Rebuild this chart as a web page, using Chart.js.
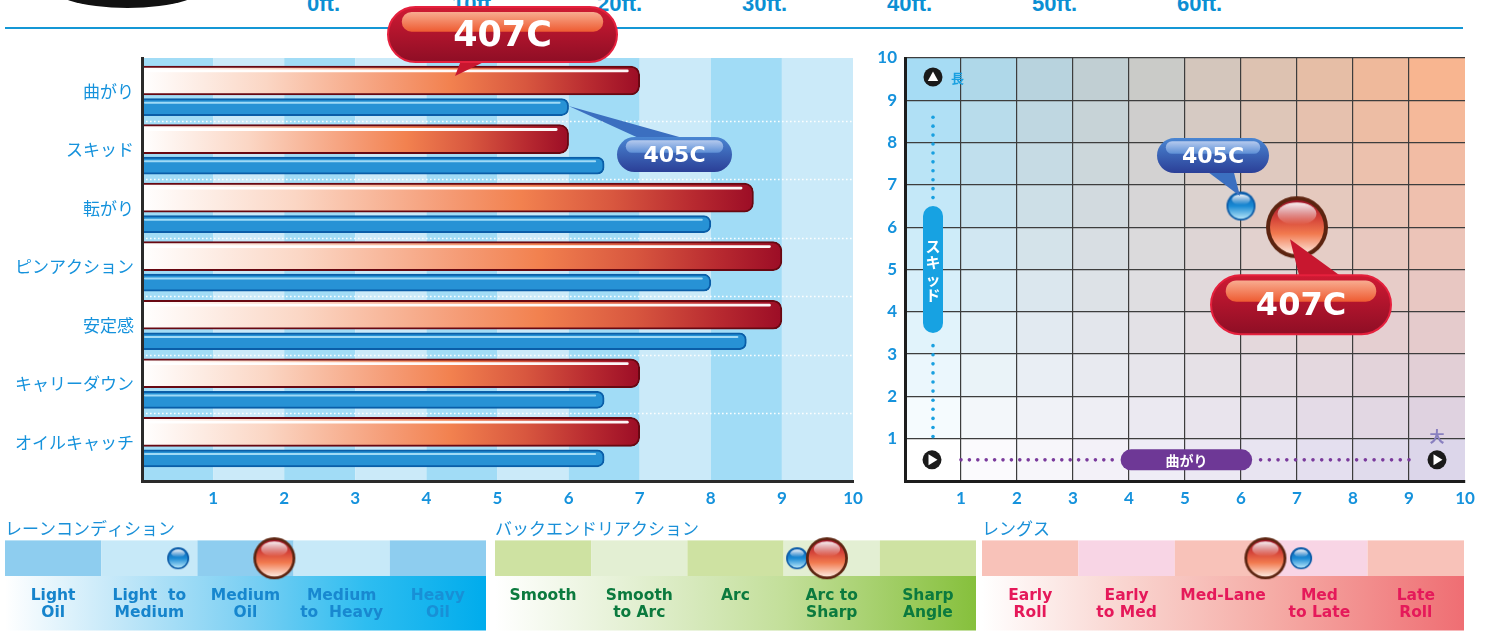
<!DOCTYPE html>
<html lang="ja">
<head>
<meta charset="utf-8">
<title>407C / 405C</title>
<script src="https://cdn.jsdelivr.net/npm/chart.js@4.4.1/dist/chart.umd.min.js"></script>
<style>
html,body{margin:0;padding:0;background:#fff;}
#wrap{position:relative;width:1486px;height:632px;overflow:hidden;background:#fff;}
#wrap canvas{position:absolute;}
.ft{position:absolute;top:-7px;font:bold 22px "Liberation Sans",Arial,sans-serif;color:#0b8fd3;line-height:22px;white-space:nowrap;}
#disc{position:absolute;left:45px;top:-44px;width:165px;height:52px;border-radius:50%;background:#111;}
#rule{position:absolute;left:5px;top:27px;width:1458px;height:2px;background:#1497d5;}
</style>
</head>
<body>
<div id="wrap">
  <div id="disc"></div>
  <div id="ftRow"></div>
  <div id="rule"></div>
  <canvas id="barChart" width="870" height="520" style="left:0;top:0"></canvas>
  <canvas id="mapChart" width="626" height="520" style="left:860px;top:0"></canvas>
  <canvas id="laneChart" width="495" height="122" style="left:0;top:510px"></canvas>
  <canvas id="backendChart" width="490" height="122" style="left:490px;top:510px"></canvas>
  <canvas id="lengthChart" width="510" height="122" style="left:976px;top:510px"></canvas>
</div>
<script>
// ---------------- DATA ----------------
const distanceLabels = ['0ft.', '10ft.', '20ft.', '30ft.', '40ft.', '50ft.', '60ft.'];

const barCategories = ['曲がり', 'スキッド', '転がり', 'ピンアクション', '安定感', 'キャリーダウン', 'オイルキャッチ'];
const bar407C = [7, 6, 8.6, 9, 9, 7, 7];
const bar405C = [6, 6.5, 8, 8, 8.5, 6.5, 6.5];
const barScaleMax = 10;

// skid (y) vs hook (x) map
const map407C = [7, 6];
const map405C = [6, 6.5];
const mapScaleMax = 10;

const laneLabels = [['Light', 'Oil'], ['Light  to', 'Medium'], ['Medium', 'Oil'], ['Medium', 'to  Heavy'], ['Heavy', 'Oil']];
const lane407C = 2.8;
const lane405C = 1.8;

const backendLabels = [['Smooth'], ['Smooth', 'to Arc'], ['Arc'], ['Arc to', 'Sharp'], ['Sharp', 'Angle']];
const backend407C = 3.45;
const backend405C = 3.14;

const lengthLabels = [['Early', 'Roll'], ['Early', 'to Med'], ['Med-Lane'], ['Med', 'to Late'], ['Late', 'Roll']];
const length407C = 2.94;
const length405C = 3.31;

// ---------------- HEADER ----------------
(function () {
  const row = document.getElementById('ftRow');
  distanceLabels.forEach((t, i) => {
    const s = document.createElement('span');
    s.className = 'ft';
    s.style.left = (307 + i * 145) + 'px';
    s.textContent = t;
    row.appendChild(s);
  });
})();

Chart.defaults.animation = false;
Chart.defaults.events = [];
Chart.defaults.plugins.legend.display = false;
Chart.defaults.plugins.tooltip.enabled = false;

// ---------------- helpers ----------------
function rr(ctx, x, y, w, h, r) {
  r = Math.min(r, h / 2, w / 2);
  ctx.beginPath();
  ctx.moveTo(x + r, y);
  ctx.lineTo(x + w - r, y);
  ctx.arc(x + w - r, y + r, r, -Math.PI / 2, 0);
  ctx.lineTo(x + w, y + h - r);
  ctx.arc(x + w - r, y + h - r, r, 0, Math.PI / 2);
  ctx.lineTo(x + r, y + h);
  ctx.arc(x + r, y + h - r, r, Math.PI / 2, Math.PI);
  ctx.lineTo(x, y + r);
  ctx.arc(x + r, y + r, r, Math.PI, Math.PI * 1.5);
  ctx.closePath();
}

function makeBall(r, kind) {
  const s = Math.ceil(2 * r + 2);
  const c = document.createElement('canvas');
  c.width = s; c.height = s;
  const g = c.getContext('2d');
  const cx = s / 2, cy = s / 2;
  const red = kind === 'red';
  const ring = red ? Math.max(2.5, r * 0.13) : Math.max(1.6, r * 0.12);
  g.beginPath(); g.arc(cx, cy, r, 0, Math.PI * 2);
  g.fillStyle = red ? '#5c2410' : '#0a5aa6'; g.fill();
  const ri = r - ring;
  const gr = g.createLinearGradient(0, cy - ri, 0, cy + ri);
  if (red) {
    gr.addColorStop(0, '#a0142a'); gr.addColorStop(0.35, '#d6463a');
    gr.addColorStop(0.62, '#f27a4f'); gr.addColorStop(1, '#fde8de');
  } else {
    gr.addColorStop(0, '#0a60b2'); gr.addColorStop(0.5, '#1a8ad4'); gr.addColorStop(1, '#b4e4f8');
  }
  g.beginPath(); g.arc(cx, cy, ri, 0, Math.PI * 2); g.fillStyle = gr; g.fill();
  const hg = g.createLinearGradient(0, cy - ri * 0.92, 0, cy - ri * 0.1);
  hg.addColorStop(0, 'rgba(255,255,255,0.95)'); hg.addColorStop(1, 'rgba(255,255,255,0)');
  g.beginPath(); g.ellipse(cx, cy - ri * 0.5, ri * 0.72, ri * 0.42, 0, 0, Math.PI * 2);
  g.fillStyle = hg; g.fill();
  return c;
}
const bigRed = makeBall(31, 'red');
const bigBlue = makeBall(14.5, 'blue');
const smallRed = makeBall(21, 'red');
const smallBlue = makeBall(11, 'blue');

const RED = { top: '#cf1a33', bottom: '#8e0e25', stroke: '#e5203d', hl0: '#f8ac90', hl1: '#ee5b31', tail: '#c8172f' };
const BLUE = { top: '#4a86d2', bottom: '#2b3f97', stroke: null, hl0: '#b5caee', hl1: '#5d8fd6', tail: '#3b6fc0' };

function drawPill(ctx, x, y, w, h, th, text, fs, tail) {
  ctx.save();
  if (tail) {
    ctx.beginPath(); ctx.moveTo(tail[0][0], tail[0][1]);
    ctx.lineTo(tail[1][0], tail[1][1]); ctx.lineTo(tail[2][0], tail[2][1]); ctx.closePath();
    ctx.fillStyle = th.tail; ctx.fill();
  }
  rr(ctx, x, y, w, h, h / 2);
  const g = ctx.createLinearGradient(0, y, 0, y + h);
  g.addColorStop(0, th.top); g.addColorStop(1, th.bottom);
  ctx.fillStyle = g; ctx.fill();
  if (th.stroke) { ctx.lineWidth = 2; ctx.strokeStyle = th.stroke; ctx.stroke(); }
  const hx = x + h * 0.25, hy = y + h * 0.09, hw = w - h * 0.5, hh = h * 0.36;
  rr(ctx, hx, hy, hw, hh, hh / 2);
  const hg = ctx.createLinearGradient(0, hy, 0, hy + hh);
  hg.addColorStop(0, th.hl0); hg.addColorStop(1, th.hl1);
  ctx.fillStyle = hg; ctx.fill();
  ctx.fillStyle = '#fff';
  ctx.font = 'bold ' + fs + 'px "DejaVu Sans", sans-serif';
  ctx.textAlign = 'center'; ctx.textBaseline = 'middle';
  ctx.fillText(text, x + w / 2, y + h * 0.54);
  ctx.restore();
}

// ---------------- BAR CHART ----------------
function redFill(c) {
  const chart = c.chart, xs = chart.scales && chart.scales.x;
  if (!chart.chartArea || !xs || !c.raw) return '#e8704a';
  const x0 = xs.getPixelForValue(0), x1 = xs.getPixelForValue(c.raw.x);
  const g = chart.ctx.createLinearGradient(x0, 0, x1, 0);
  g.addColorStop(0, '#ffffff'); g.addColorStop(0.25, '#fbd6c4'); g.addColorStop(0.5, '#f59b75');
  g.addColorStop(0.62, '#f2814f'); g.addColorStop(0.77, '#d8573f'); g.addColorStop(0.9, '#b82a30');
  g.addColorStop(1, '#9c0d26');
  return g;
}

const barDecor = {
  id: 'barDecor',
  beforeDraw(chart) {
    const { ctx, chartArea: a } = chart;
    const xs = chart.scales.x, ys = chart.scales.y;
    ctx.save();
    for (let i = 0; i < barScaleMax; i++) {
      const x0 = xs.getPixelForValue(i), x1 = xs.getPixelForValue(i + 1);
      ctx.fillStyle = i % 2 === 0 ? '#a1dcf6' : '#cbeaf9';
      ctx.fillRect(x0, a.top, x1 - x0, a.bottom - a.top);
    }
    ctx.strokeStyle = 'rgba(255,255,255,0.95)'; ctx.lineWidth = 1.3; ctx.setLineDash([1.6, 2.4]);
    for (let i = 0; i < barCategories.length - 1; i++) {
      const y = Math.round(ys.getPixelForValue(i + 0.5)) + 0.5;
      ctx.beginPath(); ctx.moveTo(a.left, y); ctx.lineTo(a.right, y); ctx.stroke();
    }
    ctx.restore();
  },
  afterDatasetsDraw(chart) {
    const ctx = chart.ctx;
    const red = chart.getDatasetMeta(0).data, blue = chart.getDatasetMeta(1).data;
    ctx.save();
    red.forEach(el => {
      const top = el.y - el.height / 2;
      ctx.fillStyle = 'rgba(255,255,255,0.96)';
      rr(ctx, el.base + 2, top + 3.5, el.x - el.base - 13, 2.8, 1.4); ctx.fill();
    });
    blue.forEach(el => {
      const top = el.y - el.height / 2;
      ctx.fillStyle = 'rgba(165,222,248,0.95)';
      rr(ctx, el.base + 2, top + 3.2, el.x - el.base - 10, 2, 1); ctx.fill();
    });
    ctx.restore();
    // callouts
    const b0 = blue[0];
    drawPill(ctx, 617, 137, 115, 35, BLUE, '405C', 22, [[b0.x, b0.y - 1], [643, 140], [690, 140]]);
    drawPill(ctx, 388, 7, 229, 55, RED, '407C', 35, [[462, 58], [492, 58], [455, 76]]);
  }
};

new Chart(document.getElementById('barChart'), {
  type: 'bar',
  data: {
    datasets: [
      {
        label: '407C', data: bar407C.map((v, i) => ({ x: v, y: i })),
        xAxisID: 'x', yAxisID: 'yRed', grouped: false, barThickness: 29,
        backgroundColor: redFill, borderColor: '#680812', borderWidth: 2,
        borderSkipped: 'start', borderRadius: 9
      },
      {
        label: '405C', data: bar405C.map((v, i) => ({ x: v, y: i })),
        xAxisID: 'x', yAxisID: 'yBlue', grouped: false, barThickness: 17,
        backgroundColor: '#2792d5', borderColor: '#0a5ea8', borderWidth: 2,
        borderSkipped: 'start', borderRadius: 7
      }
    ]
  },
  options: {
    indexAxis: 'y',
    responsive: false, animation: false, events: [],
    layout: { autoPadding: false, padding: { top: 58, right: 17, left: 0, bottom: 0 } },
    plugins: { legend: { display: false }, tooltip: { enabled: false } },
    scales: {
      x: {
        type: 'linear', position: 'bottom', min: 0, max: barScaleMax,
        afterFit: s => { s.height = 39; },
        ticks: { stepSize: 1, padding: 7, color: '#1592dc', font: { family: 'Lato', weight: 'bold', size: 17 }, callback: v => v === 0 ? '' : v },
        grid: { display: false, drawTicks: false },
        border: { display: true, width: 3, color: '#2a2a2a', z: 1 }
      },
      y: {
        type: 'linear', position: 'left', reverse: true, min: -0.568, max: 6.657, offset: false,
        afterFit: s => { s.width = 142; },
        afterBuildTicks: s => { s.ticks = barCategories.map((_, i) => ({ value: i })); },
        ticks: { autoSkip: false, padding: 8, color: '#1592dc', font: { family: '"Noto Sans CJK JP"', size: 17 }, callback: (v, i) => barCategories[i] },
        grid: { display: false, drawTicks: false },
        border: { display: true, width: 3, color: '#2a2a2a', z: 1 }
      },
      yRed: { type: 'linear', display: false, reverse: true, min: -0.385, max: 6.84, offset: false },
      yBlue: { type: 'linear', display: false, reverse: true, min: -0.838, max: 6.387, offset: false }
    }
  },
  plugins: [barDecor]
});

// ---------------- MAP (scatter) ----------------
const cTL = [166, 220, 244], cTR = [248, 181, 144], cBL = [255, 255, 255], cBR = [220, 214, 234];
function mix(a, b, t) { return a.map((v, k) => v + (b[k] - v) * t); }
function cellColor(i, j) {
  const u = i / (mapScaleMax - 1), v = j / (mapScaleMax - 1);
  const c = mix(mix(cBL, cBR, u), mix(cTL, cTR, u), v);
  return 'rgb(' + c.map(Math.round).join(',') + ')';
}
function dots(ctx, x0, y0, x1, y1, step, r, color) {
  const len = Math.hypot(x1 - x0, y1 - y0), n = Math.floor(len / step);
  ctx.fillStyle = color;
  for (let k = 0; k <= n; k++) {
    const t = n ? k / n : 0;
    ctx.beginPath(); ctx.arc(x0 + (x1 - x0) * t, y0 + (y1 - y0) * t, r, 0, Math.PI * 2); ctx.fill();
  }
}
function arrowCircle(ctx, x, y, dir) {
  ctx.beginPath(); ctx.arc(x, y, 9.5, 0, Math.PI * 2); ctx.fillStyle = '#1a1a1a'; ctx.fill();
  ctx.fillStyle = '#fff'; ctx.beginPath();
  if (dir === 'up') { ctx.moveTo(x, y - 5.5); ctx.lineTo(x - 5.2, y + 4); ctx.lineTo(x + 5.2, y + 4); }
  else { ctx.moveTo(x - 3.5, y - 5.5); ctx.lineTo(x + 5.5, y); ctx.lineTo(x - 3.5, y + 5.5); }
  ctx.closePath(); ctx.fill();
}

const mapDecor = {
  id: 'mapDecor',
  beforeDraw(chart) {
    const { ctx } = chart; const xs = chart.scales.x, ys = chart.scales.y;
    ctx.save();
    for (let i = 0; i < mapScaleMax; i++) {
      for (let j = 0; j < mapScaleMax; j++) {
        const x0 = xs.getPixelForValue(i), x1 = xs.getPixelForValue(i + 1);
        const yb = ys.getPixelForValue(j), yt = ys.getPixelForValue(j + 1);
        ctx.fillStyle = cellColor(i, j);
        ctx.fillRect(x0, yt, x1 - x0, yb - yt);
      }
    }
    ctx.restore();
  },
  afterDatasetsDraw(chart) {
    const { ctx } = chart; const xs = chart.scales.x, ys = chart.scales.y;
    ctx.save();
    const cx = xs.getPixelForValue(0.5);
    // vertical skid axis
    arrowCircle(ctx, cx, ys.getPixelForValue(9.55), 'up');
    ctx.fillStyle = '#19a0e0'; ctx.font = 'bold 13px "Noto Sans CJK JP"';
    ctx.textAlign = 'left'; ctx.textBaseline = 'middle';
    ctx.fillText('長', cx + 18, ys.getPixelForValue(9.55) + 1);
    dots(ctx, cx, ys.getPixelForValue(8.6), cx, ys.getPixelForValue(6.7), 8.3, 1.8, '#19a0e0');
    dots(ctx, cx, ys.getPixelForValue(3.2), cx, ys.getPixelForValue(1.05), 8.3, 1.8, '#19a0e0');
    const pTop = ys.getPixelForValue(6.5), pBot = ys.getPixelForValue(3.5);
    rr(ctx, cx - 10, pTop, 20, pBot - pTop, 10); ctx.fillStyle = '#17a2e2'; ctx.fill();
    ctx.fillStyle = '#fff'; ctx.font = 'bold 15px "Noto Sans CJK JP"'; ctx.textAlign = 'center';
    ['ス', 'キ', 'ッ', 'ド'].forEach((ch, k) => ctx.fillText(ch, cx, pTop + 40 + k * 16.5));
    // horizontal hook axis
    const by = ys.getPixelForValue(0.5);
    arrowCircle(ctx, cx - 1, by, 'right');
    arrowCircle(ctx, xs.getPixelForValue(9.5), by, 'right');
    dots(ctx, xs.getPixelForValue(1.0), by, xs.getPixelForValue(3.7), by, 8.3, 1.8, '#7a3a9c');
    dots(ctx, xs.getPixelForValue(6.35), by, xs.getPixelForValue(9.0), by, 8.3, 1.8, '#7a3a9c');
    const hx0 = xs.getPixelForValue(3.85), hx1 = xs.getPixelForValue(6.2);
    rr(ctx, hx0, by - 10.5, hx1 - hx0, 21, 10.5); ctx.fillStyle = '#6e3896'; ctx.fill();
    ctx.fillStyle = '#fff'; ctx.font = 'bold 14px "Noto Sans CJK JP"';
    ctx.fillText('曲がり', (hx0 + hx1) / 2, by + 1);
    ctx.fillStyle = '#8a80c0'; ctx.font = 'bold 15px "Noto Sans CJK JP"';
    ctx.fillText('大', xs.getPixelForValue(9.5), ys.getPixelForValue(1.05));
    ctx.restore();
    // callouts
    const pr = chart.getDatasetMeta(0).data[0], pb = chart.getDatasetMeta(1).data[0];
    drawPill(ctx, pb.x - 84, pb.y - 68, 112, 35, BLUE, '405C', 22,
      [[pb.x - 37, pb.y - 37], [pb.x - 8, pb.y - 37], [pb.x - 1, pb.y - 10]]);
    drawPill(ctx, pr.x - 86, pr.y + 48, 180, 59, RED, '407C', 32,
      [[pr.x - 7, pr.y + 12], [pr.x + 3, pr.y + 52], [pr.x + 48, pr.y + 52]]);
  }
};

const tickFontNum = { family: 'Lato', weight: 'bold', size: 17 };
new Chart(document.getElementById('mapChart'), {
  type: 'scatter',
  data: {
    datasets: [
      { label: '407C', data: [{ x: map407C[0], y: map407C[1] }], pointStyle: bigRed, pointRadius: 31, clip: false },
      { label: '405C', data: [{ x: map405C[0], y: map405C[1] }], pointStyle: bigBlue, pointRadius: 15, clip: false }
    ]
  },
  options: {
    responsive: false, animation: false, events: [],
    layout: { autoPadding: false, padding: { top: 58, right: 21, left: 0, bottom: 0 } },
    plugins: { legend: { display: false }, tooltip: { enabled: false } },
    scales: {
      x: {
        type: 'linear', min: 0, max: mapScaleMax, afterFit: s => { s.height = 39; },
        ticks: { stepSize: 1, padding: 7, color: '#1592dc', font: tickFontNum, callback: v => v === 0 ? '' : v },
        grid: { color: c => (c.tick && c.tick.value === mapScaleMax) ? 'rgba(0,0,0,0)' : '#3d3d3d', lineWidth: 1.2, drawTicks: false },
        border: { width: 3, color: '#1d1d1d', z: 1 }
      },
      y: {
        type: 'linear', min: 0, max: mapScaleMax, afterFit: s => { s.width = 45; },
        ticks: { stepSize: 1, padding: 8, color: '#1592dc', font: tickFontNum, callback: v => v === 0 ? '' : v },
        grid: { color: '#3d3d3d', lineWidth: 1.2, drawTicks: false },
        border: { width: 3, color: '#1d1d1d', z: 1 }
      }
    }
  },
  plugins: [mapDecor]
});

// ---------------- STRIPS ----------------
function stripDecor(cellColors, bandStops) {
  return {
    id: 'stripDecor',
    beforeDraw(chart) {
      const { ctx, chartArea: a } = chart; const xs = chart.scales.x;
      ctx.save();
      for (let k = 0; k < cellColors.length; k++) {
        const x0 = xs.getPixelForValue(k), x1 = xs.getPixelForValue(k + 1);
        ctx.fillStyle = cellColors[k];
        ctx.fillRect(x0, a.top, x1 - x0, a.bottom - a.top);
      }
      const g = ctx.createLinearGradient(a.left, 0, a.right, 0);
      bandStops.forEach(s => g.addColorStop(s[0], s[1]));
      ctx.fillStyle = g;
      ctx.fillRect(a.left, a.bottom, a.right - a.left, 54.5);
      ctx.restore();
    }
  };
}

function stripChart(id, title, labels, labelColors, cellColors, bandStops, v407, v405, padL, padR) {
  return new Chart(document.getElementById(id), {
    type: 'scatter',
    data: {
      datasets: [
        { label: '407C', data: [{ x: v407, y: 0.5 }], pointStyle: smallRed, pointRadius: 21, clip: false },
        { label: '405C', data: [{ x: v405, y: 0.5 }], pointStyle: smallBlue, pointRadius: 11, clip: false }
      ]
    },
    options: {
      responsive: false, animation: false, events: [],
      layout: { autoPadding: false, padding: { left: padL, right: padR, top: 0, bottom: 0 } },
      plugins: {
        legend: { display: false }, tooltip: { enabled: false },
        title: {
          display: true, text: title, align: 'start', color: '#1a90d8',
          font: { family: '"Noto Sans CJK JP"', size: 17, weight: 'normal', lineHeight: 1.2 },
          padding: { top: 8, bottom: 2 }
        }
      },
      scales: {
        x: {
          type: 'linear', min: 0, max: labels.length,
          afterBuildTicks: s => { s.ticks = labels.map((_, i) => ({ value: i + 0.5 })); },
          afterFit: s => { s.height = 56; },
          ticks: {
            autoSkip: false, maxRotation: 0, minRotation: 0, padding: 11,
            color: c => labelColors[c.index] || labelColors[0],
            font: { family: '"DejaVu Sans"', weight: 'bold', size: 15.5, lineHeight: 1.12 },
            callback: (v, i) => labels[i]
          },
          grid: { display: false, drawTicks: false },
          border: { display: false }
        },
        y: { type: 'linear', min: 0, max: 1, display: false }
      }
    },
    plugins: [stripDecor(cellColors, bandStops)]
  });
}

stripChart('laneChart', 'レーンコンディション', laneLabels,
  ['#1684cc', '#1684cc', '#1686ce', '#1888d0', '#1890d6'],
  ['#8ecdef', '#c7e9f8', '#8ecdef', '#c7e9f8', '#8ecdef'],
  [[0, '#ffffff'], [0.25, '#bfe6f8'], [0.5, '#7dd0f3'], [0.75, '#2ebdf0'], [1, '#00acec']],
  lane407C, lane405C, 5, 9);

stripChart('backendChart', 'バックエンドリアクション', backendLabels,
  ['#0b7a3e', '#0b7a3e', '#0b7a3e', '#0b7a3e', '#0b7a3e'],
  ['#cee2a2', '#e3efd3', '#cee2a2', '#e3efd3', '#cee2a2'],
  [[0, '#ffffff'], [0.3, '#e2efd0'], [0.6, '#c3df9a'], [1, '#86c03c']],
  backend407C, backend405C, 5, 4);

stripChart('lengthChart', 'レングス', lengthLabels,
  ['#e5195a', '#e5195a', '#e5195a', '#e5195a', '#e5195a'],
  ['#f8c2b9', '#f8d5e5', '#f8c2b9', '#f8d5e5', '#f8c2b9'],
  [[0, '#ffffff'], [0.3, '#f9d4cf'], [0.6, '#f5aca6'], [1, '#ef6e73']],
  length407C, length405C, 6, 22);
</script>
</body>
</html>
